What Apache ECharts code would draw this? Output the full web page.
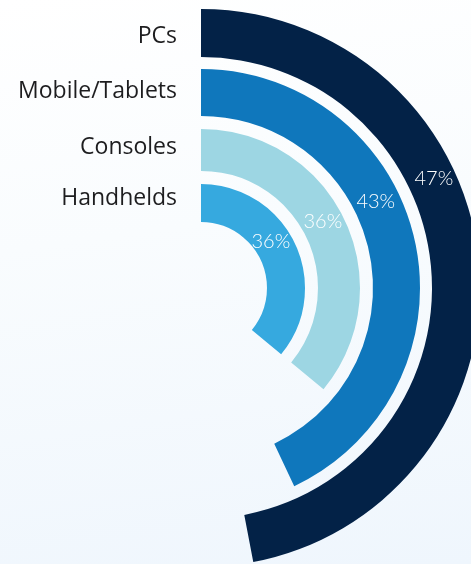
<!DOCTYPE html>
<html>
<head>
<meta charset="utf-8">
<script src="https://cdn.jsdelivr.net/npm/echarts@6/dist/echarts.min.js"></script>
<style>
html,body{margin:0;padding:0;width:471px;height:564px;overflow:hidden;background:linear-gradient(172deg,#ffffff 0%,#f9fcfe 40%,#eff6fd 100%);}
#chart{width:471px;height:564px;}
</style>
</head>
<body>
<div id="chart"></div>
<script>
// Data (outer ring first)
const categories = ['PCs', 'Mobile/Tablets', 'Consoles', 'Handhelds'];
const shares = [47, 43, 36, 36];

// Styles
const colors = ['#032247', '#0f77bc', '#9dd6e3', '#36a9df'];
const rings = [[231, 279], [172, 219], [117, 159], [66, 104]];
const valueLabelOffsets = [[-21, -85], [-16, -44], [-3, -8], [-7, -10]];
const catLabelUp = [-3, 1, 3, 5];
const center = [201, 288];

const chart = echarts.init(document.getElementById('chart'), null, {renderer: 'canvas'});
const polar = [], angleAxis = [], radiusAxis = [], series = [];
categories.forEach((name, i) => {
  const up = catLabelUp[i];
  polar.push({center: center, radius: rings[i]});
  angleAxis.push({polarIndex: i, type: 'value', min: 0, max: 100, startAngle: 90, clockwise: true, show: false});
  radiusAxis.push({
    polarIndex: i, type: 'category', data: [name],
    axisLine: {show: false}, axisTick: {show: false}, splitLine: {show: false},
    axisLabel: {
      show: true, margin: 24,
      formatter: v => '{a|' + v + '}',
      rich: {a: {fontSize: 23, color: '#1d1d1f', fontFamily: 'Open Sans', fontWeight: 400,
                 padding: [up < 0 ? -2 * up : 0, 0, up > 0 ? 2 * up : 0, 0]}}
    }
  });
  series.push({
    type: 'bar', coordinateSystem: 'polar', polarIndex: i,
    data: [shares[i]], barWidth: '100%',
    itemStyle: {color: colors[i]},
    label: {
      show: true, position: 'middle', rotate: 0, offset: valueLabelOffsets[i],
      formatter: '{c}%', color: '#ffffff', fontSize: 20,
      fontFamily: 'Lato', fontWeight: 300
    },
    silent: true, animation: false
  });
});

chart.setOption({
  backgroundColor: 'transparent',
  animation: false,
  polar, angleAxis, radiusAxis, series
});
</script>
</body>
</html>
